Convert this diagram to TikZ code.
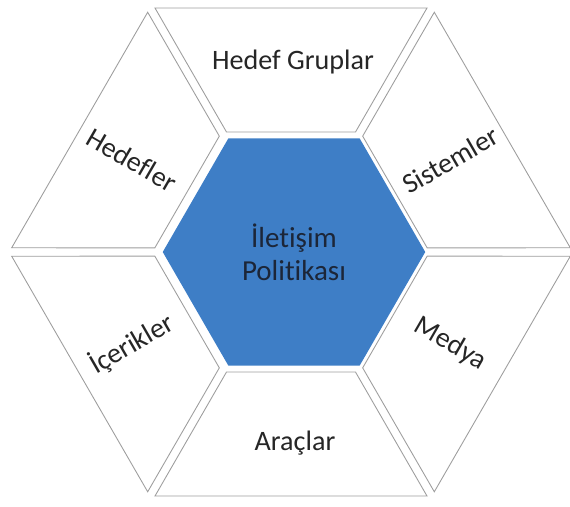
\documentclass[tikz,border=0pt]{standalone}
\usepackage{fontspec}
\setmainfont{Carlito}[Ligatures=NoCommon]
\usepackage{tikz}
\usetikzlibrary{shapes.geometric}
\definecolor{hexblue}{RGB}{62,126,198}
\definecolor{hexink}{RGB}{28,38,56}

\begin{document}
\begin{tikzpicture}[font=\rmfamily,
  lbl/.style={font=\fontsize{16}{19}\selectfont\rmfamily,text=black!85},
  seg/.style={draw=black!38,line width=0.5pt,fill=white},
  core/.style={regular polygon,regular polygon sides=6,minimum size=5.25cm,
    inner sep=0pt,fill=hexblue,align=center,text=hexink,
    font=\fontsize{16.5}{18.8}\selectfont\rmfamily},
]

\def\ai{2.40}
\def\ao{4.88}
\def\hi{1.29}
\def\ho{2.72}
\def\rl{3.68}

\useasboundingbox (-5.82,-5.08) rectangle (5.58,5.04);

% ------------------------------------------------------------------
% outer ring: six trapezoids
% ------------------------------------------------------------------
\begin{scope}[rotate=90]
  \draw[seg] (\ai,-\hi) -- (\ao,-\ho) -- (\ao,\ho) -- (\ai,\hi) -- cycle;
\end{scope}
\begin{scope}[rotate=30]
  \draw[seg] (\ai,-\hi) -- (\ao,-\ho) -- (\ao,\ho) -- (\ai,\hi) -- cycle;
\end{scope}
\begin{scope}[rotate=-30]
  \draw[seg] (\ai,-\hi) -- (\ao,-\ho) -- (\ao,\ho) -- (\ai,\hi) -- cycle;
\end{scope}
\begin{scope}[rotate=-90]
  \draw[seg] (\ai,-\hi) -- (\ao,-\ho) -- (\ao,\ho) -- (\ai,\hi) -- cycle;
\end{scope}
\begin{scope}[rotate=210]
  \draw[seg] (\ai,-\hi) -- (\ao,-\ho) -- (\ao,\ho) -- (\ai,\hi) -- cycle;
\end{scope}
\begin{scope}[rotate=150]
  \draw[seg] (\ai,-\hi) -- (\ao,-\ho) -- (\ao,\ho) -- (\ai,\hi) -- cycle;
\end{scope}

\node[lbl] (hgrp) at (0.04,3.80) {Hedef Gruplar};
\node[lbl,rotate=-30] (hdef) at (150:\rl) {Hedefler};
\node[lbl,rotate=30] (sist) at (30:\rl) {Sistemler};
\node[lbl,rotate=-30] (medy) at (-30:\rl) {Medya};
\node[lbl,rotate=30] (icer) at (210:\rl) {İçerikler};
\node[lbl] (arac) at (0.08,-3.82) {Araçlar};

% ------------------------------------------------------------------
% centre
% ------------------------------------------------------------------
\node[core] (poli) at (0.06,0) {İletişim\\Politikası};

\end{tikzpicture}
\end{document}
